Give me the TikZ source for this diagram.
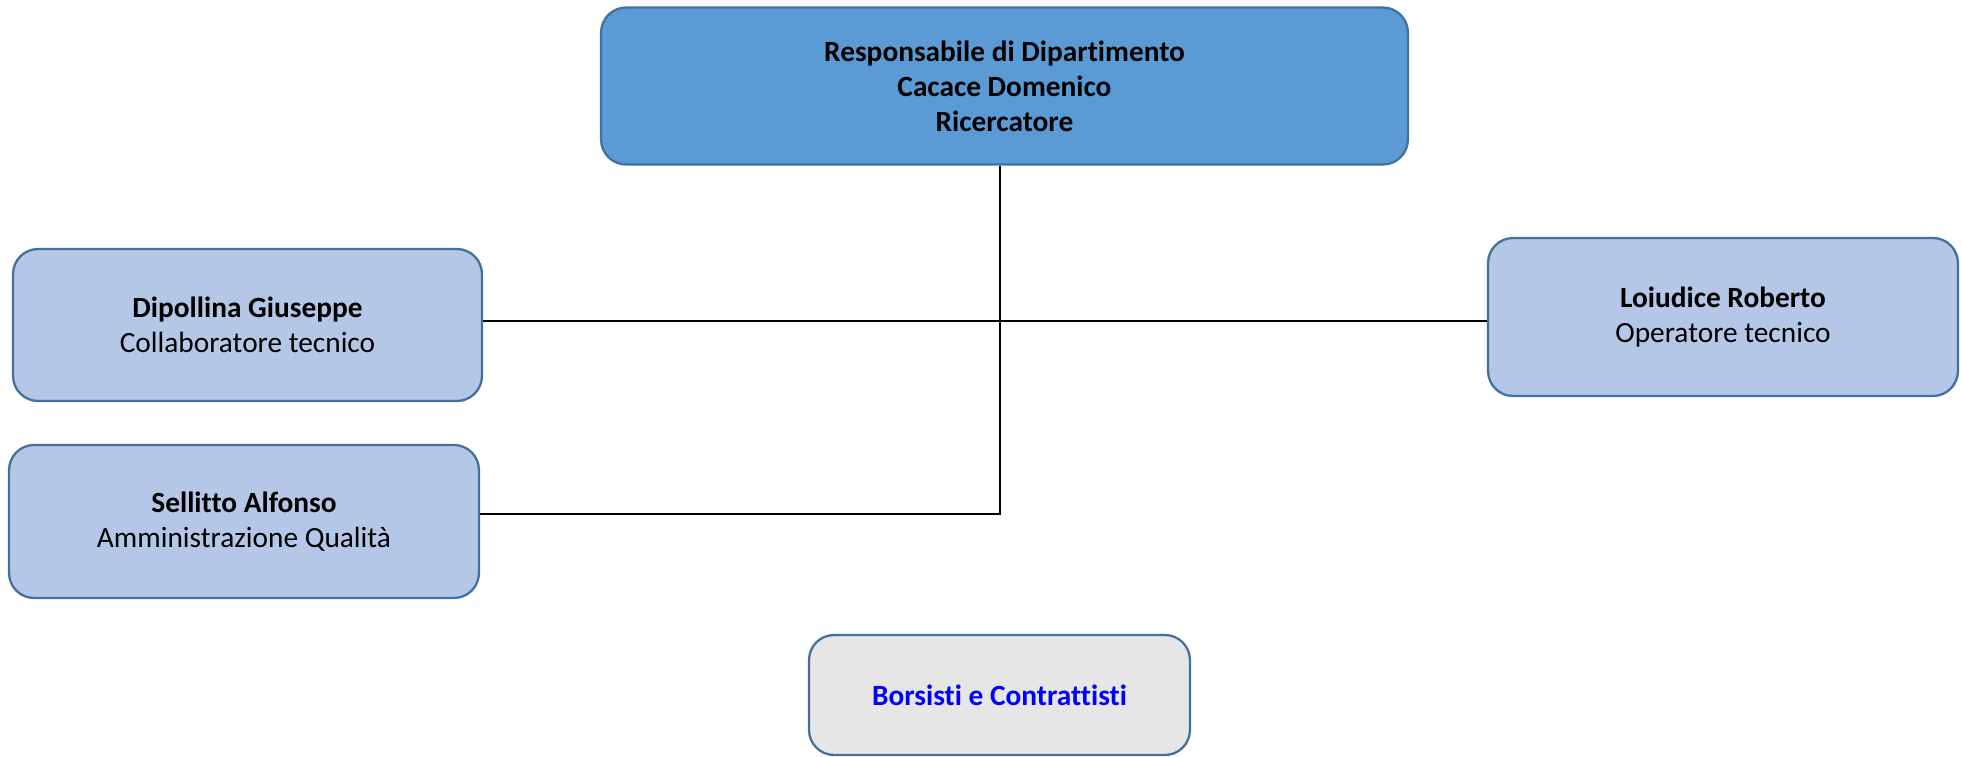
\documentclass[tikz,border=0pt]{standalone}
\usepackage{fontspec}
\setmainfont{Carlito}[Ligatures=NoCommon]
\usepackage{tikz}
\definecolor{head_blue}{RGB}{91, 155, 213}
\definecolor{light_blue}{RGB}{180, 199, 231}
\definecolor{edge_blue}{RGB}{65, 113, 156}
\definecolor{soft_gray}{RGB}{230, 230, 230}
\definecolor{text_blue}{RGB}{0, 0, 255}
\tikzset{
  box/.style={draw=edge_blue, line width=1.3pt, rounded corners=0.5cm,
    align=center, inner sep=0pt, font=\fontsize{16.7}{20}\selectfont},
  headbox/.style={box, fill=head_blue, font=\fontsize{16.7}{20}\selectfont\bfseries},
  staffbox/.style={box, fill=light_blue},
  extbox/.style={box, fill=soft_gray, text=text_blue, font=\fontsize{16.7}{20}\selectfont\bfseries},
  link/.style={line width=1.6pt, black}
}

\begin{document}
\begin{tikzpicture}[x=0.02cm, y=-0.02cm]
\useasboundingbox (0, 0) rectangle (1962, 757);

\node[headbox, minimum width=16.14cm, minimum height=3.14cm] (head) at (1004.5, 86)
  {Responsabile di Dipartimento\\Cacace Domenico\\Ricercatore};

\node[staffbox, minimum width=9.38cm, minimum height=3.04cm] (dipollina) at (247.5, 325)
  {\textbf{Dipollina Giuseppe}\\Collaboratore tecnico};
\node[staffbox, minimum width=9.4cm, minimum height=3.06cm] (sellitto) at (244, 521.5)
  {\textbf{Sellitto Alfonso}\\Amministrazione Qualità};
\node[staffbox, minimum width=9.4cm, minimum height=3.16cm] (loiudice) at (1723, 317)
  {\textbf{Loiudice Roberto}\\Operatore tecnico};

\node[extbox, minimum width=7.62cm, minimum height=2.4cm] (borsisti) at (999.5, 695)
  {Borsisti e Contrattisti};

\draw[link] ([xshift=-0.09cm]head.south) |- ([yshift=0.15cm]sellitto.east);
\draw[link] ([yshift=0.08cm]dipollina.east) -- ([yshift=0.08cm]dipollina.east -| loiudice.west);
\end{tikzpicture}
\end{document}
